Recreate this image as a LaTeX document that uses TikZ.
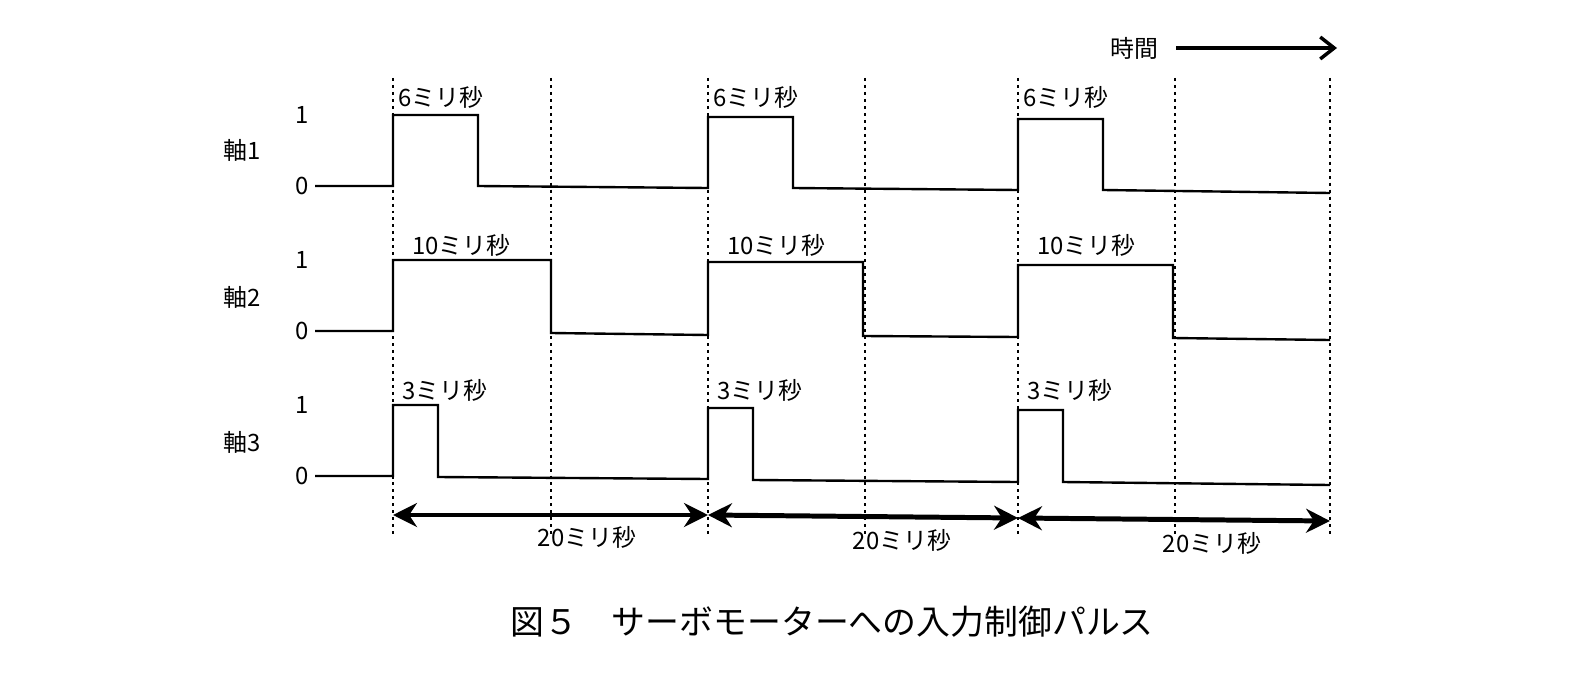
\documentclass[tikz,border=0pt]{standalone}
\usepackage{fontspec}
\setmainfont{Noto Sans CJK JP}
\usetikzlibrary{arrows.meta}
\begin{document}
\begin{tikzpicture}[x=1bp,y=-1bp,
  sig/.style={line width=2.4pt,black},
  grid/.style={line width=1.6pt,dash pattern=on 3pt off 4pt},
  lab/.style={font=\fontsize{24}{26}\selectfont,inner sep=0pt},
  per/.style={line width=5pt,{Stealth[length=24pt,width=24pt]}-{Stealth[length=24pt,width=24pt]}}]
\useasboundingbox (0,0) rectangle (1582,682);
\foreach \x in {393,551,708,865,1018,1175,1330}
  \draw[grid] (\x,78) -- (\x,535);
% axis 1
\draw[sig] (315,186) -- (393,186) -- (393,115) -- (478,115) -- (478,186) -- (708,188) -- (708,117) -- (793,117) -- (793,188) -- (1018,190) -- (1018,119) -- (1103,119) -- (1103,190) -- (1330,193);
% axis 2
\draw[sig] (315,331) -- (393,331) -- (393,260) -- (551,260) -- (551,333) -- (708,335) -- (708,262) -- (863,262) -- (863,336) -- (1018,337) -- (1018,265) -- (1173,265) -- (1173,338) -- (1330,340);
% axis 3
\draw[sig] (315,476) -- (393,476) -- (393,405) -- (438,405) -- (438,477) -- (708,479) -- (708,408) -- (753,408) -- (753,480) -- (1018,482) -- (1018,410) -- (1063,410) -- (1063,482) -- (1330,485);
\foreach \y/\n in {115/1,186/0,260/1,331/0,405/1,476/0}
  \node[lab] at (302,\y) {\n};
\node[lab] (a1) at (242,150) {軸1};
\node[lab] (a2) at (242,297) {軸2};
\node[lab] (a3) at (242,442) {軸3};
\foreach \x in {0,315,625}{
  \node[lab,anchor=west] at (398+\x,97) {6ミリ秒};
  \node[lab,anchor=west] at (412+\x,245) {10ミリ秒};
  \node[lab,anchor=west] at (402+\x,390) {3ミリ秒};
}
\coordinate (p0) at (393,515); \coordinate (p1) at (708,515);
\coordinate (p2) at (1018,518); \coordinate (p3) at (1330,521);
\draw[per] (p0) -- (p1);
\draw[per] (p1) -- (p2);
\draw[per] (p2) -- (p3);
\node[lab] at (587,537) {20ミリ秒};
\node[lab] at (902,540) {20ミリ秒};
\node[lab] at (1212,543) {20ミリ秒};
\node[lab] (t) at (1134,48) {時間};
\coordinate (te) at (1337,48);
\draw[line width=3.5pt,-{Straight Barb[length=14pt,width=22pt]}] (1176,48) -- (te);
\node[font=\fontsize{34}{36}\selectfont] (cap) at (832,622) {図５\quad サーボモーターへの入力制御パルス};
\end{tikzpicture}
\end{document}
